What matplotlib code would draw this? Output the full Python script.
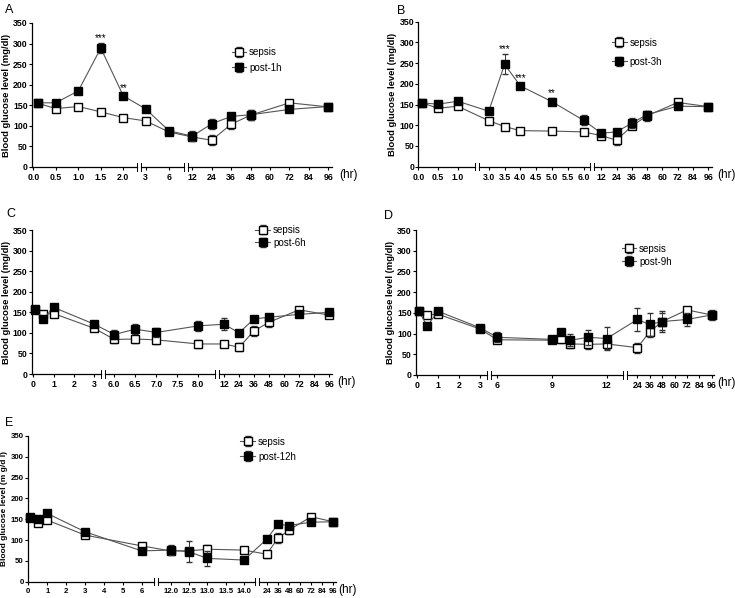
import numpy as np
import matplotlib
matplotlib.use("Agg")
import matplotlib.pyplot as plt

plt.rcParams["font.family"] = ["Liberation Sans", "DejaVu Sans"]

W, H = 735, 598

# ---- panel A : post-1h ----
a_hours = [0.1, 0.5, 1.0, 1.5, 2.0, 3, 6, 12, 24, 36, 48, 72, 96]
a_sepsis = [155, 142, 147, 134, 120, 112, 85, 73, 65, 104, 126, 156, 146]
a_sepsis_err = [6, 5, 5, 5, 6, 6, 6, 8, 12, 12, 12, 6, 5]
a_post = [156, 156, 185, 289, 173, 141, 88, 75, 105, 123, 127, 140, 147]
a_post_err = [6, 6, 7, 13, 6, 5, 5, 12, 12, 8, 12, 5, 6]
a_ticks = [0.0, 0.5, 1.0, 1.5, 2.0, 3, 6, 12, 24, 36, 48, 60, 72, 84, 96]
a_ticklabels = ["0.0", "0.5", "1.0", "1.5", "2.0", "3", "6", "12", "24",
                "36", "48", "60", "72", "84", "96"]
a_stars = [(1.5, "***"), (2.0, "**")]

# ---- panel B : post-3h ----
b_hours = [0.1, 0.5, 1.0, 3.0, 3.5, 4.0, 5.0, 6.0, 12, 24, 36, 48, 72, 96]
b_sepsis = [154, 141, 146, 111, 97, 87, 86, 84, 75, 64, 98, 123, 155, 145]
b_sepsis_err = [5, 5, 5, 6, 5, 5, 5, 6, 6, 12, 8, 12, 6, 5]
b_post = [154, 151, 158, 134, 247, 195, 157, 112, 81, 84, 105, 126, 146, 145]
b_post_err = [5, 5, 5, 5, 24, 8, 8, 12, 6, 6, 12, 8, 5, 5]
b_ticks = [0.0, 0.5, 1.0, 3.0, 3.5, 4.0, 4.5, 5.0, 5.5, 6.0,
           12, 24, 36, 48, 60, 72, 84, 96]
b_ticklabels = ["0.0", "0.5", "1.0", "3.0", "3.5", "4.0", "4.5", "5.0", "5.5",
                "6.0", "12", "24", "36", "48", "60", "72", "84", "96"]
b_stars = [(3.5, "***"), (4.0, "***"), (5.0, "**")]

# ---- panel C : post-6h ----
c_hours = [0.1, 0.5, 1, 3, 6.0, 6.5, 7.0, 8.0, 12, 24, 36, 48, 72, 96]
c_sepsis = [155, 145, 147, 111, 84, 85, 83, 73, 73, 65, 105, 126, 156, 143]
c_sepsis_err = [5, 5, 5, 6, 8, 10, 10, 10, 6, 10, 12, 12, 6, 5]
c_post = [157, 134, 162, 121, 96, 109, 101, 117, 121, 100, 134, 138, 145, 150]
c_post_err = [5, 5, 5, 5, 12, 12, 12, 12, 14, 8, 5, 5, 5, 5]
c_ticks = [0, 1, 2, 3, 6.0, 6.5, 7.0, 7.5, 8.0, 12, 24, 36, 48, 60, 72, 84, 96]
c_ticklabels = ["0", "1", "2", "3", "6.0", "6.5", "7.0", "7.5", "8.0",
                "12", "24", "36", "48", "60", "72", "84", "96"]

# ---- panel D : post-9h ----
d_hours = [0.1, 0.5, 1, 3, 6, 9, 9.5, 10, 11, 12, 24, 36, 48, 72, 96]
d_sepsis = [154, 145, 147, 111, 85, 84, 86, 75, 74, 75, 66, 104, 129, 157, 145]
d_sepsis_err = [5, 5, 5, 6, 6, 6, 8, 10, 12, 12, 12, 12, 20, 6, 8]
d_post = [154, 118, 154, 114, 91, 86, 104, 84, 91, 88, 134, 122, 129, 134, 145]
d_post_err = [5, 5, 5, 5, 12, 8, 8, 15, 18, 28, 27, 28, 25, 15, 12]
d_ticks = [0, 1, 2, 3, 6, 9, 12, 24, 36, 48, 60, 72, 84, 96]
d_ticklabels = ["0", "1", "2", "3", "6", "9", "12", "24", "36", "48",
                "60", "72", "84", "96"]

# ---- panel E : post-12h ----
e_hours = [0.1, 0.5, 1, 3, 6, 12.0, 12.5, 13.0, 14.0, 24, 36, 48, 72, 96]
e_sepsis = [153, 142, 148, 112, 86, 74, 74, 78, 76, 66, 104, 124, 156, 144]
e_sepsis_err = [5, 5, 5, 6, 6, 8, 8, 10, 8, 8, 12, 10, 6, 5]
e_post = [155, 150, 164, 120, 74, 76, 72, 56, 52, 102, 138, 135, 143, 144]
e_post_err = [5, 5, 5, 5, 6, 12, 25, 18, 6, 5, 5, 6, 6, 5]
e_ticks = [0, 1, 2, 3, 4, 5, 6, 12.0, 12.5, 13.0, 13.5, 14.0,
           24, 36, 48, 60, 72, 84, 96]
e_ticklabels = ["0", "1", "2", "3", "4", "5", "6", "12.0", "12.5", "13.0",
                "13.5", "14.0", "24", "36", "48", "60", "72", "84", "96"]

# layout of each panel: axes box (px), broken-axis anchors (hour -> px), breaks (px)
panels = [
    dict(letter="A", letter_xy=(5, 10), box=(32, 23, 332, 167),
         anch_h=[-0.1, 0, 2.0, 3, 6, 12, 96, 100],
         anch_p=[28.8, 33.3, 123.3, 145.7, 169, 192.3, 328.3, 334.8],
         breaks=[139, 186], leg=(0.665, 0.83), legsp=0.55, label="post-1h",
         hr_off=7, tsize=6.3, lsize=6.8,
         hours=a_hours, sep=a_sepsis, sep_e=a_sepsis_err, post=a_post,
         post_e=a_post_err, ticks=a_ticks, tl=a_ticklabels, stars=a_stars,
         ylabel="Blood glucose level (mg/dl)"),
    dict(letter="B", letter_xy=(397, 11), box=(418.3, 21.7, 712, 166.7),
         anch_h=[-0.1, 0, 1.0, 3.0, 6.0, 12, 96, 100],
         anch_p=[413.7, 417.7, 457.3, 488.3, 583.3, 601, 708.3, 713.4],
         breaks=[476.7, 591.7], leg=(0.66, 0.89), legsp=0.95, label="post-3h",
         hr_off=5, tsize=6.3, lsize=6.8,
         hours=b_hours, sep=b_sepsis, sep_e=b_sepsis_err, post=b_post,
         post_e=b_post_err, ticks=b_ticks, tl=b_ticklabels, stars=b_stars,
         ylabel="Blood glucose level (mg/dl)"),
    dict(letter="C", letter_xy=(6, 214), box=(31.7, 230, 332, 374),
         anch_h=[-0.1, 0, 3, 6.0, 8.0, 12, 96, 100],
         anch_p=[31.3, 33.3, 94.3, 114.3, 198.3, 224, 329.3, 334.3],
         breaks=[103.3, 216.7], leg=(0.745, 1.035), legsp=0.3, label="post-6h",
         hr_off=5, tsize=6.3, lsize=6.8,
         hours=c_hours, sep=c_sepsis, sep_e=c_sepsis_err, post=c_post,
         post_e=c_post_err, ticks=c_ticks, tl=c_ticklabels, stars=[],
         ylabel="Blood glucose level (mg/dl)"),
    dict(letter="D", letter_xy=(384, 216), box=(416, 230, 714, 375),
         anch_h=[-0.1, 0, 3, 6, 12, 24, 96, 100],
         anch_p=[414.6, 416.7, 480, 497.3, 606.7, 637.3, 711.7, 715.8],
         breaks=[489, 625], leg=(0.69, 0.905), legsp=0.3, label="post-9h",
         hr_off=3, tsize=6.3, lsize=6.8,
         hours=d_hours, sep=d_sepsis, sep_e=d_sepsis_err, post=d_post,
         post_e=d_post_err, ticks=d_ticks, tl=d_ticklabels, stars=[],
         ylabel="Blood glucose level (mg/dl)"),
    dict(letter="E", letter_xy=(5, 423), box=(27.7, 436, 336, 581.7),
         anch_h=[-0.1, 0, 6, 12.0, 14.0, 24, 96, 100],
         anch_p=[26.4, 28.3, 141.7, 170.7, 244, 266.7, 333.3, 337],
         breaks=[156, 256.7], leg=(0.69, 0.995), legsp=0.5, label="post-12h",
         hr_off=2, tsize=5.6, lsize=6.0,
         hours=e_hours, sep=e_sepsis, sep_e=e_sepsis_err, post=e_post,
         post_e=e_post_err, ticks=e_ticks, tl=e_ticklabels, stars=[],
         ylabel="Blood glucose level (m g/d l)"),
]

fig = plt.figure(figsize=(W / 100, H / 100), dpi=100)
line_col = "#555555"

for p in panels:
    x0, y0, x1, y1 = p["box"]
    ax = fig.add_axes([x0 / W, 1 - y1 / H, (x1 - x0) / W, (y1 - y0) / H])
    hh = np.array(p["anch_h"], float)
    pp = np.array(p["anch_p"], float)
    fwd = lambda x, hh=hh, pp=pp: np.interp(x, hh, pp)
    inv = lambda x, hh=hh, pp=pp: np.interp(x, pp, hh)
    ax.set_xscale("function", functions=(fwd, inv))
    ax.set_xlim(inv(x0), inv(x1))
    ax.set_ylim(0, 350)

    ax.errorbar(p["hours"], p["sep"], yerr=p["sep_e"], color=line_col, lw=0.8,
                marker="s", ms=6, mfc="white", mec="black", mew=1.0,
                ecolor="#333333", elinewidth=0.7, capsize=2, capthick=0.7,
                label="sepsis", zorder=3, clip_on=False)
    ax.errorbar(p["hours"], p["post"], yerr=p["post_e"], color=line_col, lw=0.8,
                marker="s", ms=6, mfc="black", mec="black", mew=1.0,
                ecolor="#333333", elinewidth=0.7, capsize=2, capthick=0.7,
                label=p["label"], zorder=4, clip_on=False)

    for h, s in p["stars"]:
        i = p["hours"].index(h)
        ax.annotate(s, (h, p["post"][i] + p["post_e"][i]), xytext=(0, 0),
                    textcoords="offset points", ha="center", va="bottom",
                    fontsize=7)

    # broken x axis
    ax.spines[["top", "right", "bottom"]].set_visible(False)
    ax.spines["left"].set_linewidth(0.9)
    edges = [x0] + [v for b in p["breaks"] for v in (b - 2, b + 2)] + [x1]
    for k in range(0, len(edges), 2):
        ax.plot(inv(np.array(edges[k:k + 2])), [0, 0], color="black", lw=0.9,
                clip_on=False, zorder=5)
    for b in p["breaks"]:
        for d in (-2, 2):
            xb = inv(b + d)
            ax.plot([xb, xb], [-0.025, 0.025], transform=ax.get_xaxis_transform(),
                    color="black", lw=0.7, clip_on=False)

    ax.set_xticks(p["ticks"])
    ax.set_xticklabels(p["tl"])
    ax.set_yticks(range(0, 351, 50))
    ax.tick_params(axis="x", direction="out", length=2.5, width=0.8,
                   labelsize=p["tsize"], pad=2)
    ax.tick_params(axis="y", direction="out", length=2, width=0.8,
                   labelsize=p["tsize"], pad=1)
    for t in ax.get_xticklabels() + ax.get_yticklabels():
        t.set_fontweight("bold")
    ax.set_ylabel(p["ylabel"], fontsize=p["lsize"], fontweight="bold",
                  labelpad=1.5)
    ax.annotate("(hr)", (1.0, 0), xycoords="axes fraction",
                xytext=(p["hr_off"] * 0.72, -1.5), textcoords="offset points",
                ha="left", va="top", fontsize=8.5)

    ax.legend(loc="upper left", bbox_to_anchor=p["leg"], frameon=False,
              fontsize=7, handlelength=1.5, handletextpad=0.3,
              labelspacing=p["legsp"], borderaxespad=0, borderpad=0)
    fig.text(p["letter_xy"][0] / W, 1 - p["letter_xy"][1] / H, p["letter"],
             fontsize=9, va="center", ha="left")

fig.savefig("out.png", dpi=100)
